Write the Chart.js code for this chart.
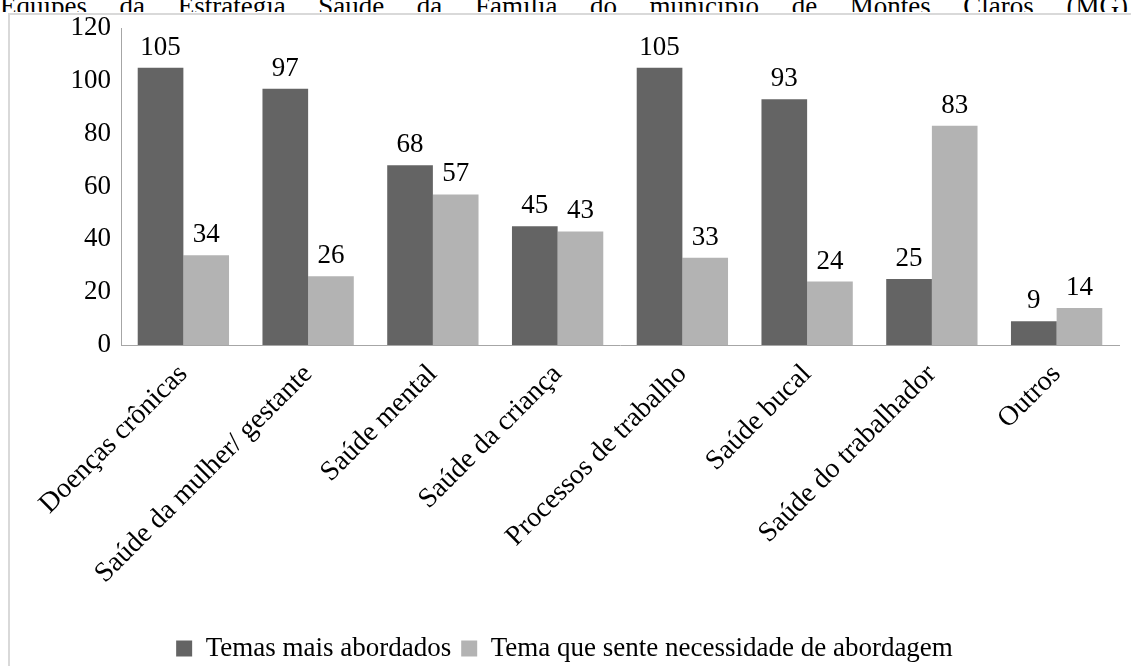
<!DOCTYPE html>
<html>
<head>
<meta charset="utf-8">
<script src="https://cdn.jsdelivr.net/npm/chart.js@4"></script>
<style>
  html, body { margin: 0; padding: 0; background: #fff; overflow: hidden; width: 1131px; height: 666px; }
  #titleclip { position: absolute; left: 0; top: 0; width: 1131px; height: 12px; overflow: hidden; }
  #title {
    position: absolute; left: 0; top: -7px; width: 1128px;
    font-family: 'Liberation Serif'; font-size: 27px; line-height: 27px;
    color: #000; white-space: nowrap;
    display: flex; justify-content: space-between;
  }
  #box {
    position: absolute; left: 8px; top: 13px; width: 1140px; height: 700px;
    border: 2px solid #d9d9d9; box-sizing: border-box;
  }
  #wrap { position: absolute; left: 10px; top: 15px; width: 1121px; height: 657px; }
</style>
</head>
<body>
<div id="titleclip"><div id="title"><span>Equipes</span><span>da</span><span>Estratégia</span><span>Saúde</span><span>da</span><span>Família</span><span>do</span><span>município</span><span>de</span><span>Montes</span><span>Claros</span><span>(MG)</span></div></div>
<div id="box"></div>
<div id="wrap"><canvas id="c" width="1121" height="657"></canvas></div>
<script>
const categories = ["Doenças crônicas", "Saúde da mulher/ gestante", "Saúde mental", "Saúde da criança", "Processos de trabalho", "Saúde bucal", "Saúde do trabalhador", "Outros"];
const seriesNames = ["Temas mais abordados", "Tema que sente necessidade de abordagem"];
const temasAbordados = [105, 97, 68, 45, 105, 93, 25, 9];
const temaNecessidade = [34, 26, 57, 43, 33, 24, 83, 14];
const yTicks = [0, 20, 40, 60, 80, 100, 120];

const FONT = "'Liberation Serif'";
const FS = 27;

const valueLabels = {
  id: 'valueLabels',
  afterDatasetsDraw(chart) {
    const ctx = chart.ctx;
    ctx.save();
    ctx.font = FS + "px " + FONT;
    ctx.fillStyle = "#000";
    ctx.textAlign = "center";
    ctx.textBaseline = "alphabetic";
    chart.data.datasets.forEach((ds, i) => {
      const meta = chart.getDatasetMeta(i);
      meta.data.forEach((bar, j) => {
        ctx.fillText(String(ds.data[j]), bar.x, bar.y - 13);
      });
    });
    ctx.restore();
  }
};

new Chart(document.getElementById('c'), {
  type: 'bar',
  data: {
    labels: categories,
    datasets: [
      { label: seriesNames[0], data: temasAbordados, backgroundColor: '#646464', borderWidth: 0 },
      { label: seriesNames[1], data: temaNecessidade, backgroundColor: '#b3b3b3', borderWidth: 0 }
    ]
  },
  options: {
    responsive: false,
    animation: false,
    devicePixelRatio: 1,
    layout: { padding: { top: 13, right: 12, left: 0, bottom: 0 } },
    datasets: { bar: { categoryPercentage: 0.732, barPercentage: 1.0 } },
    plugins: {
      legend: {
        position: 'bottom',
        labels: {
          font: { family: FONT, size: FS },
          color: '#000',
          boxWidth: 16, boxHeight: 16,
          padding: 10
        }
      },
      tooltip: { enabled: false },
      title: { display: false }
    },
    scales: {
      x: {
        grid: { display: false, drawTicks: false },
        border: { display: true, color: '#a6a6a6', width: 1 },
        ticks: {
          font: { family: FONT, size: 28 }, color: '#000',
          minRotation: 45, maxRotation: 45, padding: 13, autoSkip: false
        },
        afterFit(scale) { scale.height = 280; scale.paddingLeft = 0; scale.paddingRight = 0; }
      },
      y: {
        min: 0, max: 120,
        grid: { display: false, drawTicks: false },
        border: { display: true, color: '#a6a6a6', width: 1 },
        afterBuildTicks(scale) { scale.ticks = yTicks.map(v => ({ value: v })); },
        ticks: { font: { family: FONT, size: FS }, color: '#000', padding: 10 },
        afterFit(scale) { scale.width = 111; scale.paddingTop = 0; scale.paddingBottom = 0; }
      }
    }
  },
  plugins: [valueLabels]
});
</script>
</body>
</html>
